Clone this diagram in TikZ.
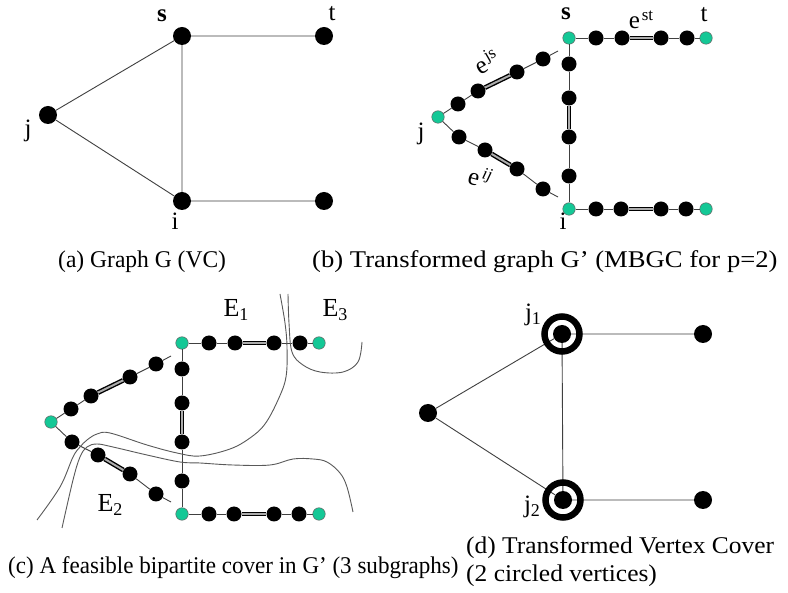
\documentclass[tikz,border=0pt]{standalone}
\usepackage{fontspec}
\usepackage{graphicx}
\setmainfont{Liberation Serif}
\definecolor{tealdot}{RGB}{20,200,150}
\newcommand\mysb[1]{\raisebox{-0.35ex}{\fontsize{18}{18}\selectfont #1}}
\newcommand\mysp[1]{\kern2pt\raisebox{0.75ex}{\fontsize{17}{17}\selectfont #1}}
\newcommand\tgraph[1]{%
  \node[gr] (#1s) at (569,38) {};
  \node[gr] (#1t) at (706,38) {};
  \node[gr] (#1j) at (438,117) {};
  \node[gr] (#1i) at (569,209) {};
  \node[gr] (#1r) at (706,209) {};
  \node[sm] (#1a1) at (596,38) {};
  \node[sm] (#1a2) at (622,38) {};
  \node[sm] (#1a3) at (661,38) {};
  \node[sm] (#1a4) at (687,38) {};
  \node[sm] (#1b1) at (596,209) {};
  \node[sm] (#1b2) at (621,209) {};
  \node[sm] (#1b3) at (661,209) {};
  \node[sm] (#1b4) at (686,209) {};
  \node[sm] (#1v1) at (569,64) {};
  \node[sm] (#1v2) at (569,98) {};
  \node[sm] (#1v3) at (569,137) {};
  \node[sm] (#1v4) at (569,176) {};
  \node[sm] (#1u1) at (458,104) {};
  \node[sm] (#1u2) at (478,91) {};
  \node[sm] (#1u3) at (517,72) {};
  \node[sm] (#1u4) at (543,59) {};
  \coordinate (#1ue) at (558,51);
  \node[sm] (#1l1) at (459,137) {};
  \node[sm] (#1l2) at (485,150) {};
  \node[sm] (#1l3) at (517,169) {};
  \node[sm] (#1l4) at (543,189) {};
  \coordinate (#1le) at (558,197);
  \draw[ed] (#1s)--(#1a1)--(#1a2) (#1a3)--(#1a4)--(#1t);
  \draw[ed] (#1i)--(#1b1)--(#1b2) (#1b3)--(#1b4)--(#1r);
  \draw[ed] (#1s)--(#1v1)--(#1v2) (#1v3)--(#1v4)--(#1i);
  \draw[ed] (#1j)--(#1u1)--(#1u2) (#1u3)--(#1u4)--(#1ue);
  \draw[ed] (#1j)--(#1l1)--(#1l2) (#1l3)--(#1l4)--(#1le);
  \draw[dbl] (#1a2)--(#1a3);
  \draw[dbl] (#1b2)--(#1b3);
  \draw[dbl] (#1v2)--(#1v3);
  \draw[dbl] (#1u2)--(#1u3);
  \draw[dbl] (#1l2)--(#1l3);
}
\begin{document}
\begin{tikzpicture}[x=1pt,y=-1pt,
  big/.style={circle,fill=black,inner sep=0pt,minimum size=18pt},
  sm/.style={circle,fill=black,inner sep=0pt,minimum size=15pt},
  gr/.style={circle,fill=tealdot,draw=black!60,line width=0.5pt,inner sep=0pt,minimum size=12.5pt},
  ed/.style={draw=black!75,line width=0.9pt},
  dbl/.style={draw=black,line width=1.4pt,double=gray!65,double distance=2pt},
  lbl/.style={font=\fontsize{25}{28}\selectfont,inner sep=0pt},
  big lbl/.style={font=\fontsize{26}{29}\selectfont,inner sep=0pt},
  captxt/.style={font=\fontsize{24}{28}\selectfont,inner sep=0pt,anchor=west},
  reg/.style={draw=black!65,line width=0.9pt},
  ring/.style={draw=black,line width=6.5pt}
]
\useasboundingbox[fill=white] (0,0) rectangle (788,593);

% ---------- (a) ----------
\node[big] (as) at (182,36) {};
\node[big] (at) at (324,36) {};
\node[big] (aj) at (48,115) {};
\node[big] (ai) at (182,201) {};
\node[big] (ar) at (324,201) {};
\draw[ed] (aj)--(as) (aj)--(ai) (as)--(ai) (as)--(at) (ai)--(ar);
\node[lbl] (asl) at (162,16) {\textbf{s}};
\node[lbl] (atl) at (332,14) {t};
\node[lbl] (ajl) at (28,131) {j};
\node[lbl] (ail) at (175,221) {i};
\node[captxt] (capa) at (58,262) {\scalebox{0.98}[1]{(a) Graph G (VC)}};

% ---------- (b) ----------
\tgraph{b}
\node[lbl] (bsl) at (566,14) {\textbf{s}};
\node[lbl] (btl) at (704,15) {t};
\node[lbl] (bjl) at (421,134) {j};
\node[lbl] (bil) at (563,221) {i};
\node[lbl] (bst) at (641,20) {e\mysp{st}};
\node[lbl,rotate=30] (bjs) at (486,61) {e\mysp{js}};
\node[lbl,rotate=-15] (bij) at (480,177) {e\mysp{\itshape ij}};
\node[captxt] (capb) at (312,262) {\scalebox{1.11}[1]{(b) Transformed graph G’ (MBGC for p=2)}};

% ---------- (c) ----------
\begin{scope}[shift={(-387,305)}]
\tgraph{c}
\end{scope}
\draw[reg] plot[smooth,tension=0.6] coordinates {(280,294) (285,323) (287,347) (286,377) (278,400) (265,424) (250,438) (230,449) (200,456) (177,453) (147,445) (110,433) (97,434) (87,440) (80,447) (73,457) (60,487) (37,520)};
\draw[reg] plot[smooth,tension=0.6] coordinates {(353,512) (347,487) (340,473) (327,462) (313,459) (293,459) (270,465) (233,465) (200,463) (180,462) (147,455) (113,447) (97,444) (87,447) (80,457) (73,480) (62,528)};
\draw[reg] plot[smooth,tension=0.6] coordinates {(288,294) (289,323) (292,352) (303,365) (320,372) (343,372) (358,362) (362,342)};
\node[big lbl] (e1) at (236,310) {E\mysb{1}};
\node[big lbl] (e3) at (335,310) {E\mysb{3}};
\node[big lbl] (e2) at (110,505) {E\mysb{2}};
\node[captxt] (capc) at (8,568) {\scalebox{0.96}[1]{(c) A feasible bipartite cover in G’ (3 subgraphs)}};

% ---------- (d) ----------
\node[big] (dj1) at (562,334) {};
\node[big] (dr1) at (703,334) {};
\node[big] (dl) at (428,413) {};
\node[big] (dj2) at (563,500) {};
\node[big] (dr2) at (703,500) {};
\draw[ed] (dl)--(dj1) (dl)--(dj2) (dj1)--(dj2) (dj1)--(dr1) (dj2)--(dr2);
\draw[ring] (dj1) circle (17.5pt);
\draw[ring] (dj2) circle (17.5pt);
\node[lbl] (dj1l) at (533,315) {j\mysb{1}};
\node[lbl] (dj2l) at (532,507) {j\mysb{2}};
\node[captxt] (capd1) at (466,548) {\scalebox{1.06}[1]{(d) Transformed Vertex Cover}};
\node[captxt] (capd2) at (466,576) {\scalebox{1.06}[1]{(2 circled vertices)}};
\end{tikzpicture}
\end{document}
